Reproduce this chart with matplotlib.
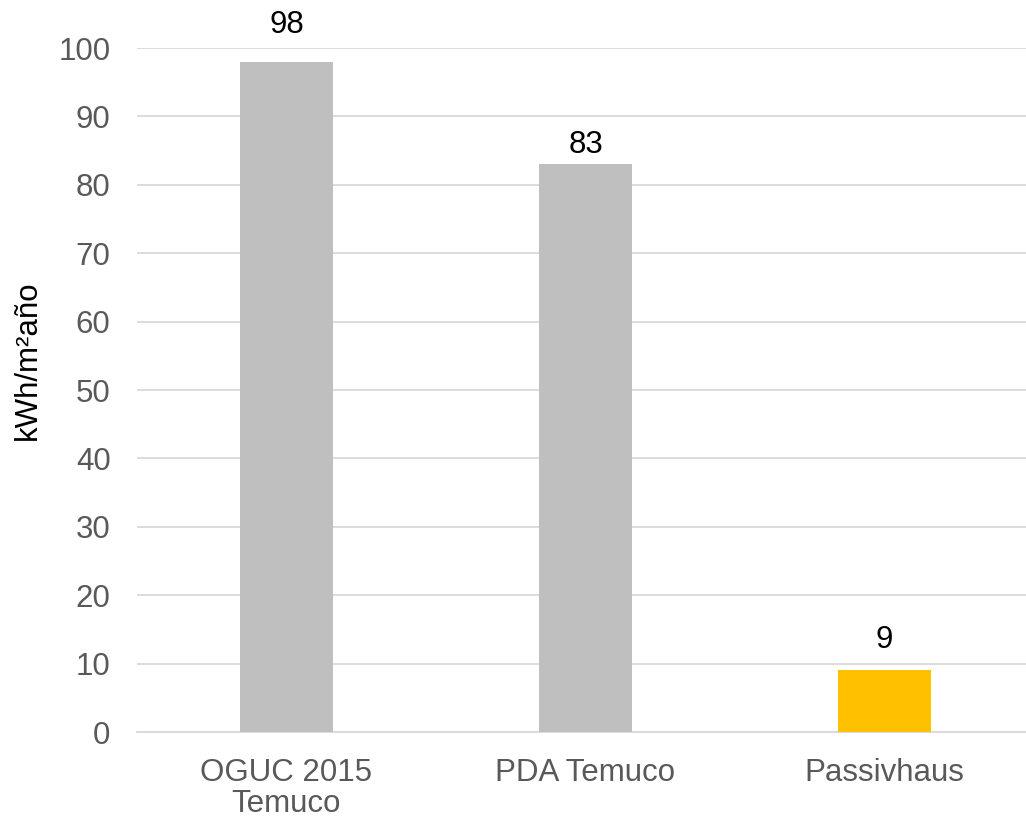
import matplotlib
matplotlib.use("Agg")
import matplotlib.pyplot as plt

categories = ["OGUC 2015\nTemuco", "PDA Temuco", "Passivhaus"]
values = [98, 83, 9]
colors = ["#BFBFBF", "#BFBFBF", "#FFC000"]
yticks = [0, 10, 20, 30, 40, 50, 60, 70, 80, 90, 100]
label_offsets_pt = [21, 8, 16.5]

plt.rcParams['font.family'] = ['Liberation Sans', 'DejaVu Sans']
FS = 22.5

fig = plt.figure(figsize=(10.26, 8.23), dpi=100)
ax = fig.add_axes([137/1026, 1 - 732/823, 897/1026, (732 - 48)/823])

x = list(range(len(categories)))
ax.bar(x, values, width=0.31, color=colors, zorder=3)
for xi, v, off in zip(x, values, label_offsets_pt):
    ax.annotate(str(v), (xi, v), xytext=(0, off), textcoords="offset points",
                ha="center", va="baseline", fontsize=FS, color="black")

ax.set_xlim(-0.5, 2.5)
ax.set_ylim(0, 100)
ax.set_yticks(yticks)
ax.set_xticks(x)
ax.set_xticklabels(categories, linespacing=1.03)
ax.yaxis.grid(True, color="#D9D9D9", linewidth=1.3, zorder=0)
ax.set_axisbelow(True)
for s in ["top", "right", "left"]:
    ax.spines[s].set_visible(False)
ax.spines["bottom"].set_color("#D9D9D9")
ax.spines["bottom"].set_linewidth(1.3)
ax.tick_params(axis="y", length=0, pad=19, labelsize=FS, labelcolor="#595959")
ax.tick_params(axis="x", length=0, pad=19, labelsize=FS, labelcolor="#595959")
fig.text(28/1026, 1 - 360/823, "kWh/m²año", rotation=90, ha="center", va="center",
         fontsize=FS, color="black")

fig.savefig("out.png", dpi=100)
